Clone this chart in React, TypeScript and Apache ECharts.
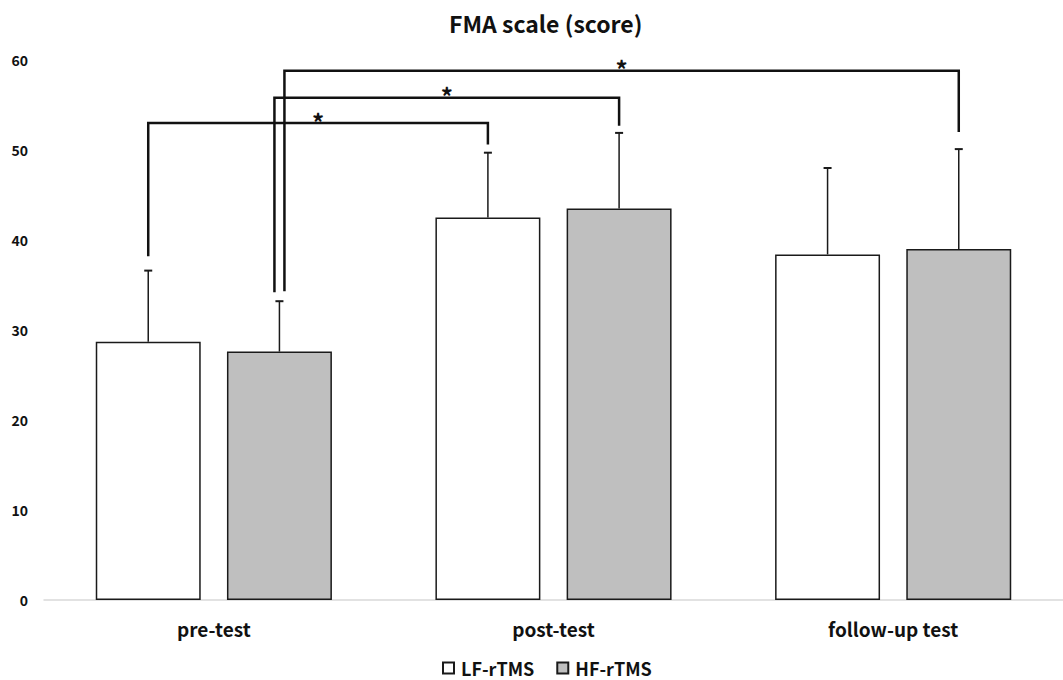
import React, { useEffect, useRef } from "react";
import * as echarts from "echarts";

const categories = ["pre-test", "post-test", "follow-up test"];
const seriesNames = ["LF-rTMS", "HF-rTMS"];
const lfMeans = [28.7, 42.5, 38.4];
const lfSD = [7.9, 7.2, 9.6];
const hfMeans = [27.6, 43.5, 39.0];
const hfSD = [5.6, 8.4, 11.1];
const yTicks = [0, 10, 20, 30, 40, 50, 60];

// significance brackets: start category/series, end category/series, y values
const bracketStartCat = [0, 0, 0];
const bracketStartSeries = [0, 1, 1];
const bracketEndCat = [1, 1, 2];
const bracketEndSeries = [0, 1, 1];
const bracketStartY = [38.2, 34.2, 34.3];
const bracketTopY = [53.0, 55.8, 58.8];
const bracketEndY = [50.6, 52.7, 52.0];
const bracketLabel = ["*", "*", "*"];

const FONT = '"Noto Sans CJK KR", "Noto Sans", sans-serif';
const BAR_W_FRAC = 0.309;
const BAR_GAP_FRAC = 0.25;
const LANE_NUDGE = [0, -5, 5];

export default function App() {
  const ref = useRef<HTMLDivElement>(null);
  useEffect(() => {
    if (!ref.current) return;
    const chart = echarts.init(ref.current, null, { renderer: "svg" });

    const sideOffset = (api: any, side: number) => {
      const band = api.size([1, 0])[0];
      const barW = band * BAR_W_FRAC;
      return (side === 0 ? -1 : 1) * (barW * (1 + BAR_GAP_FRAC)) / 2;
    };

    const errData: number[][] = [];
    categories.forEach((_, i) => {
      errData.push([i, lfMeans[i], lfSD[i], 0]);
      errData.push([i, hfMeans[i], hfSD[i], 1]);
    });

    const bracketData = bracketStartCat.map((c, i) => [
      c,
      bracketStartY[i],
      bracketEndCat[i],
      bracketTopY[i],
      bracketEndY[i],
      bracketStartSeries[i],
      bracketEndSeries[i],
      i,
    ]);

    const option: any = {
      animation: false,
      backgroundColor: "#ffffff",
      title: {
        text: "FMA scale (score)",
        left: 444,
        top: 6,
        textStyle: { fontFamily: FONT, fontSize: 23, fontWeight: "bold", color: "#111" },
      },
      legend: {
        data: seriesNames,
        left: 437,
        top: 654,
        icon: "rect",
        itemWidth: 11,
        itemHeight: 11,
        itemGap: 22,
        textStyle: { fontFamily: FONT, fontSize: 18, fontWeight: "bold", color: "#111", padding: [0, 0, 0, 2] },
      },
      grid: { left: 44, width: 1025, top: 60, bottom: 80, containLabel: false },
      xAxis: {
        type: "category",
        data: categories,
        axisLine: { lineStyle: { color: "#d9d9d9", width: 1.5 } },
        axisTick: { show: false },
        axisLabel: {
          margin: 19,
          fontFamily: FONT,
          fontSize: 19,
          fontWeight: "bold",
          color: "#111",
        },
      },
      yAxis: {
        type: "value",
        min: yTicks[0],
        max: yTicks[yTicks.length - 1],
        interval: 10,
        axisLine: { show: false },
        axisTick: { show: false },
        splitLine: { show: false },
        axisLabel: { margin: 16, fontFamily: FONT, fontSize: 14, fontWeight: "bold", color: "#111" },
      },
      series: [
        {
          name: seriesNames[0],
          type: "bar",
          data: lfMeans,
          barWidth: BAR_W_FRAC * 100 + "%",
          barGap: BAR_GAP_FRAC * 100 + "%",
          itemStyle: { color: "#ffffff", borderColor: "#1a1a1a", borderWidth: 1.5 },
        },
        {
          name: seriesNames[1],
          type: "bar",
          data: hfMeans,
          barWidth: BAR_W_FRAC * 100 + "%",
          barGap: BAR_GAP_FRAC * 100 + "%",
          itemStyle: { color: "#bfbfbf", borderColor: "#1a1a1a", borderWidth: 1.5 },
        },
        {
          type: "custom",
          name: "err",
          data: errData,
          z: 5,
          renderItem: (params: any, api: any) => {
            const cat = api.value(0);
            const mean = api.value(1);
            const sd = api.value(2);
            const side = api.value(3);
            const base = api.coord([cat, mean]);
            const top = api.coord([cat, mean + sd]);
            const x = base[0] + sideOffset(api, side);
            return {
              type: "group",
              children: [
                { type: "line", shape: { x1: x, y1: base[1], x2: x, y2: top[1] }, style: { stroke: "#1a1a1a", lineWidth: 1.5 } },
                { type: "line", shape: { x1: x - 4, y1: top[1], x2: x + 4, y2: top[1] }, style: { stroke: "#1a1a1a", lineWidth: 2 } },
              ],
            };
          },
        },
        {
          type: "custom",
          name: "sig",
          data: bracketData,
          z: 6,
          renderItem: (params: any, api: any) => {
            const sc = api.value(0);
            const sy = api.value(1);
            const ec = api.value(2);
            const ty = api.value(3);
            const ey = api.value(4);
            const ss = api.value(5);
            const es = api.value(6);
            const idx = api.value(7);
            const p1 = api.coord([sc, sy]);
            const pt = api.coord([sc, ty]);
            const p2 = api.coord([ec, ey]);
            const x1 = p1[0] + sideOffset(api, ss) + LANE_NUDGE[idx];
            const x2 = p2[0] + sideOffset(api, es);
            const yTop = pt[1];
            return {
              type: "group",
              children: [
                {
                  type: "polyline",
                  shape: { points: [[x1, p1[1]], [x1, yTop], [x2, yTop], [x2, p2[1]]] },
                  style: { stroke: "#111", lineWidth: 2.5, fill: "none" },
                },
                {
                  type: "text",
                  x: (x1 + x2) / 2,
                  y: yTop + 10,
                  style: {
                    text: bracketLabel[idx],
                    fontFamily: FONT,
                    fontSize: 24,
                    fontWeight: "bold",
                    fill: "#111",
                    align: "center",
                    verticalAlign: "bottom",
                  },
                },
              ],
            };
          },
        },
      ],
    };
    chart.setOption(option);
    return () => chart.dispose();
  }, []);
  return (
    <div
      ref={ref}
      style={{ position: "fixed", left: 0, top: 0, width: 1063, height: 680, background: "#fff" }}
    />
  );
}
